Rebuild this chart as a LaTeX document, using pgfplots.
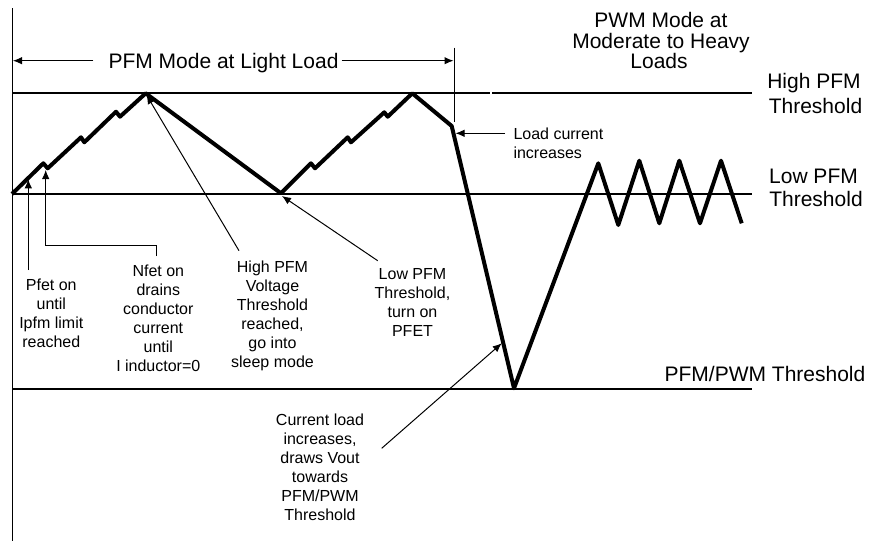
\documentclass[border=0pt]{standalone}
\usepackage{fontspec}
\setmainfont{Liberation Sans}
\usepackage{pgfplots}
\pgfplotsset{compat=1.18}
\usetikzlibrary{arrows.meta}
\tikzset{
  big/.style={font=\fontsize{21}{25}\selectfont, inner sep=0pt, anchor=base},
  sm/.style={font=\fontsize{16}{19}\selectfont, inner sep=0pt, anchor=base},
  arr/.style={line width=1pt, -{Latex[length=9pt,width=7.5pt]}},
}
\begin{document}
\begin{tikzpicture}
\begin{axis}[width=870pt,height=541pt,scale only axis,
  xmin=0,xmax=870,ymin=0,ymax=541,y dir=reverse,hide axis,clip=false]
% vertical axis line
\addplot[line width=1.8pt] coordinates {(12.5,8) (12.5,541)};
% threshold lines
\addplot[line width=1.9pt] coordinates {(12,93.3) (490,93.3)};
\addplot[line width=1.9pt] coordinates {(492,93.3) (752,93.3)};
\addplot[line width=1.9pt] coordinates {(12,194) (752,194)};
\addplot[line width=1.9pt] coordinates {(12,389.3) (752,389.3)};
% waveform
\addplot[line width=4pt, line join=round] coordinates {
 (12,194) (43.3,163.3) (47.7,168.3) (81,137.3) (84.3,142.3) (116,111.7) (120,116.7)
 (145.7,93.3) (281,193.3) (311,163.3) (315,168.3) (347.7,137.3) (351,142.3)
 (384.3,112.3) (387.7,116.7) (412.3,93.3) (451.7,126) (514,388.3) (598.3,163.3)
 (618.3,225) (639.3,160.7) (659.3,223.3) (679.3,160.7) (700,223.3) (721,160.7)
 (741.7,223.3)};
% PFM mode span
\draw[arr] (axis cs:93.3,60.7) -- (axis cs:13,60.7);
\draw[arr] (axis cs:341.7,60.7) -- (axis cs:453.5,60.7);
\draw[line width=1pt] (axis cs:454.3,47.7) -- (axis cs:454.3,122);
\node[big] at (axis cs:223.5,68.3) {PFM Mode at Light Load};
% PWM title
\node[big] at (axis cs:661,27) {PWM Mode at};
\node[big] at (axis cs:661,48) {Moderate to Heavy};
\node[big] at (axis cs:659,68) {Loads};
% right labels
\node[big] at (axis cs:814,88.3) {High PFM};
\node[big] at (axis cs:815.5,113.3) {Threshold};
\node[big] at (axis cs:813.5,183.3) {Low PFM};
\node[big] at (axis cs:816,206.7) {Threshold};
\node[big] at (axis cs:765,381) {PFM/PWM Threshold};
% load current increases
\draw[arr] (axis cs:505,133.3) -- (axis cs:455.5,133.3);
\node[sm, anchor=base west] at (axis cs:513.3,139.3) {Load current};
\node[sm, anchor=base west] at (axis cs:513.3,158.3) {increases};
% Pfet
\draw[arr] (axis cs:28.3,270) -- (axis cs:28.3,179.3);
\node[sm] at (axis cs:51.3,290) {Pfet on};
\node[sm] at (axis cs:51.3,309.2) {until};
\node[sm] at (axis cs:51.3,328.4) {Ipfm limit};
\node[sm] at (axis cs:51.3,347.7) {reached};
% Nfet
\draw[arr] (axis cs:156.7,256) -- (axis cs:156.7,245) -- (axis cs:45.7,245) -- (axis cs:45.7,170);
\node[sm] at (axis cs:158.3,276.7) {Nfet on};
\node[sm] at (axis cs:158.3,295.7) {drains};
\node[sm] at (axis cs:158.3,314.7) {conductor};
\node[sm] at (axis cs:158.3,333.7) {current};
\node[sm] at (axis cs:158.3,352.7) {until};
\node[sm] at (axis cs:158.3,371.7) {I inductor=0};
% High PFM
\draw[arr] (axis cs:239,250.7) -- (axis cs:146.5,95);
\node[sm] at (axis cs:272.5,272.7) {High PFM};
\node[sm] at (axis cs:272.5,291.7) {Voltage};
\node[sm] at (axis cs:272.5,310.7) {Threshold};
\node[sm] at (axis cs:272.5,329.7) {reached,};
\node[sm] at (axis cs:272.5,348.7) {go into};
\node[sm] at (axis cs:272.5,367.7) {sleep mode};
% Low PFM
\draw[arr] (axis cs:377.7,260.7) -- (axis cs:282,196);
\node[sm] at (axis cs:412.5,279.3) {Low PFM};
\node[sm] at (axis cs:412.5,298.3) {Threshold,};
\node[sm] at (axis cs:412.5,317.3) {turn on};
\node[sm] at (axis cs:412.5,336.3) {PFET};
% Current load
\draw[arr] (axis cs:381.7,448.3) -- (axis cs:501.7,343.3);
\node[sm] at (axis cs:320,425) {Current load};
\node[sm] at (axis cs:320,444) {increases,};
\node[sm] at (axis cs:320,463) {draws Vout};
\node[sm] at (axis cs:320,482) {towards};
\node[sm] at (axis cs:320,501) {PFM/PWM};
\node[sm] at (axis cs:320,520) {Threshold};
\end{axis}
\pgfresetboundingbox
\path (current axis.south west) rectangle (current axis.north east);
\end{tikzpicture}
\end{document}
